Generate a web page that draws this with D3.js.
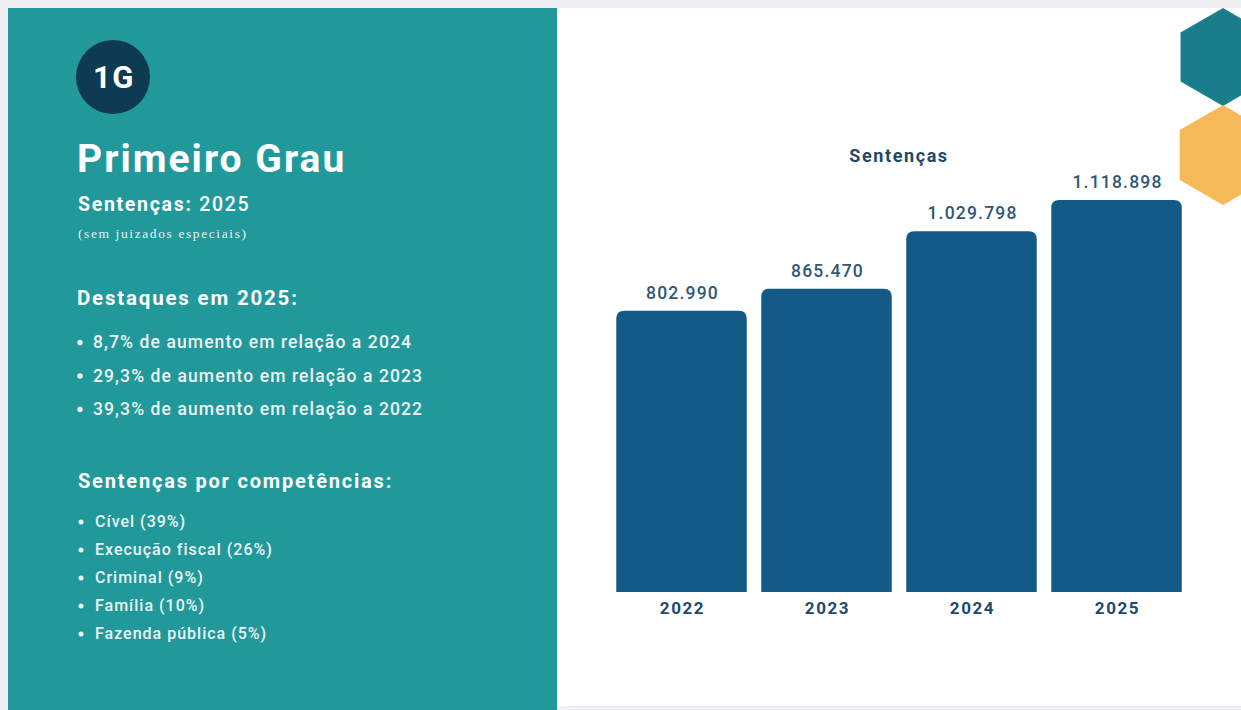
<!DOCTYPE html>
<html>
<head>
  <meta charset="utf-8">
  <script src="https://cdn.jsdelivr.net/npm/d3@7"></script>
  <style>
    body { margin: 0; background: #f0f0f4; }
    svg { display: block; font-family: Roboto, "Noto Sans", sans-serif; }
  </style>
</head>
<body>
<script>
  // chart data
  var years = ["2022", "2023", "2024", "2025"];
  var sentencas = [802990, 865470, 1029798, 1118898];

  // text blocks on the left panel
  var destaques = [
    "8,7% de aumento em relação a 2024",
    "29,3% de aumento em relação a 2023",
    "39,3% de aumento em relação a 2022"
  ];
  var competencias = [
    "Cível (39%)",
    "Execução fiscal (26%)",
    "Criminal (9%)",
    "Família (10%)",
    "Fazenda pública (5%)"
  ];

  var W = 1241, H = 710;
  var svg = d3.select("body").append("svg").attr("width", W).attr("height", H);

  // backgrounds
  svg.append("rect").attr("x", 0).attr("y", 0).attr("width", W).attr("height", H).attr("fill", "#f0f0f4");
  svg.append("rect").attr("x", 557).attr("y", 8).attr("width", W - 557).attr("height", 698).attr("fill", "#ffffff");
  svg.append("rect").attr("x", 8).attr("y", 8).attr("width", 549).attr("height", H - 8).attr("fill", "#21999b");

  // hexagons top right
  function hex(cx, cy, r) {
    var pts = [];
    for (var i = 0; i < 6; i++) {
      var a = Math.PI / 180 * (60 * i - 90);
      pts.push([cx + r * Math.cos(a), cy + r * Math.sin(a)]);
    }
    return "M" + pts.join("L") + "Z";
  }
  var deco = svg.append("g");
  deco.append("path").attr("d", hex(1223, 57, 49)).attr("fill", "#1a7d8b");
  deco.append("path").attr("d", hex(1223, 155, 50)).attr("fill", "#f6b95a");
  // keep the top strip gray
  svg.append("rect").attr("x", 557).attr("y", 0).attr("width", W - 557).attr("height", 8).attr("fill", "#f0f0f4");

  // ---- left panel ----
  var left = svg.append("g").attr("fill", "#ffffff");
  svg.append("circle").attr("cx", 113).attr("cy", 77).attr("r", 37).attr("fill", "#0f3b52");
  svg.append("text").attr("x", 114).attr("y", 88).attr("text-anchor", "middle")
    .attr("fill", "#fff").style("font-size", "31px").style("font-weight", 700)
    .style("letter-spacing", "1.5px").text("1G");

  left.append("text").attr("x", 77).attr("y", 172)
    .style("font-size", "39px").style("font-weight", 700).style("letter-spacing", "2px")
    .text("Primeiro Grau");

  var sub = left.append("text").attr("x", 78).attr("y", 211).style("font-size", "19.5px")
    .style("letter-spacing", "1.7px");
  sub.append("tspan").style("font-weight", 700).text("Sentenças:");
  sub.append("tspan").style("font-weight", 500).text(" 2025");

  left.append("text").attr("x", 78).attr("y", 238)
    .style("font-family", "'Liberation Serif', serif").style("font-size", "13.5px")
    .style("letter-spacing", "1.6px")
    .attr("fill-opacity", 0.9).text("(sem juizados especiais)");

  left.append("text").attr("x", 77).attr("y", 305)
    .style("font-size", "20.5px").style("font-weight", 700).style("letter-spacing", "1.8px")
    .text("Destaques em 2025:");

  var dl = left.selectAll("g.dest").data(destaques).enter().append("g")
    .attr("transform", function (d, i) { return "translate(0," + (348 + i * 33.5) + ")"; });
  dl.append("circle").attr("cx", 80).attr("cy", -5.5).attr("r", 2.7).attr("fill", "#f2f2f2");
  dl.append("text").attr("x", 93).attr("y", 0).style("font-size", "17.5px")
    .style("font-weight", 500).style("letter-spacing", "1.1px")
    .attr("fill", "#eef4f4").text(function (d) { return d; });

  left.append("text").attr("x", 78).attr("y", 488)
    .style("font-size", "20px").style("font-weight", 700).style("letter-spacing", "1.8px")
    .text("Sentenças por competências:");

  var cl = left.selectAll("g.comp").data(competencias).enter().append("g")
    .attr("transform", function (d, i) { return "translate(0," + (527 + i * 28) + ")"; });
  cl.append("circle").attr("cx", 81).attr("cy", -5).attr("r", 2.5).attr("fill", "#f2f2f2");
  cl.append("text").attr("x", 95).attr("y", 0).style("font-size", "16px")
    .style("font-weight", 500).style("letter-spacing", "1px")
    .attr("fill", "#eef4f4").text(function (d) { return d; });

  // ---- bar chart ----
  var base = 592;
  var x = d3.scaleBand().domain(years).range([609, 1189]).paddingInner(0.1).paddingOuter(0.05);
  var y = d3.scaleLinear().domain([0, d3.max(sentencas)]).range([base, 200]);
  var fmt = d3.formatLocale({ decimal: ",", thousands: ".", grouping: [3], currency: ["R$", ""] }).format(",d");

  svg.append("text").attr("x", 899).attr("y", 162).attr("text-anchor", "middle")
    .attr("fill", "#1e4a6a").style("font-size", "18px").style("font-weight", 700)
    .style("letter-spacing", "1.6px").text("Sentenças");

  var rows = years.map(function (yr, i) { return { year: yr, value: sentencas[i] }; });
  var r = 8;
  function barPath(d) {
    var x0 = x(d.year), w = x.bandwidth(), y0 = y(d.value);
    return "M" + x0 + "," + base + "V" + (y0 + r) +
      "Q" + x0 + "," + y0 + " " + (x0 + r) + "," + y0 +
      "H" + (x0 + w - r) + "Q" + (x0 + w) + "," + y0 + " " + (x0 + w) + "," + (y0 + r) +
      "V" + base + "Z";
  }
  svg.selectAll("path.bar").data(rows).enter().append("path")
    .attr("class", "bar").attr("d", barPath).attr("fill", "#135a86");

  svg.selectAll("text.val").data(rows).enter().append("text")
    .attr("x", function (d) { return x(d.year) + x.bandwidth() / 2 + 1; })
    .attr("y", function (d) { return y(d.value) - 12; })
    .attr("text-anchor", "middle").attr("fill", "#2f5875").style("font-size", "17.5px")
    .style("font-weight", 500).style("letter-spacing", "1.2px")
    .text(function (d) { return fmt(d.value); });

  var ax = svg.append("g").attr("transform", "translate(0," + base + ")")
    .call(d3.axisBottom(x).tickSize(0).tickPadding(10));
  ax.select(".domain").remove();
  ax.selectAll("text").attr("fill", "#1e4a6a").attr("dx", "1px")
    .style("font-size", "17px").style("font-weight", 700)
    .style("letter-spacing", "1.6px").style("font-family", "Roboto, sans-serif");

  // faint bottom rule in the white area
  svg.append("line").attr("x1", 570).attr("x2", W).attr("y1", 706.5).attr("y2", 706.5)
    .attr("stroke", "#e8e8ec");
</script>
</body>
</html>
